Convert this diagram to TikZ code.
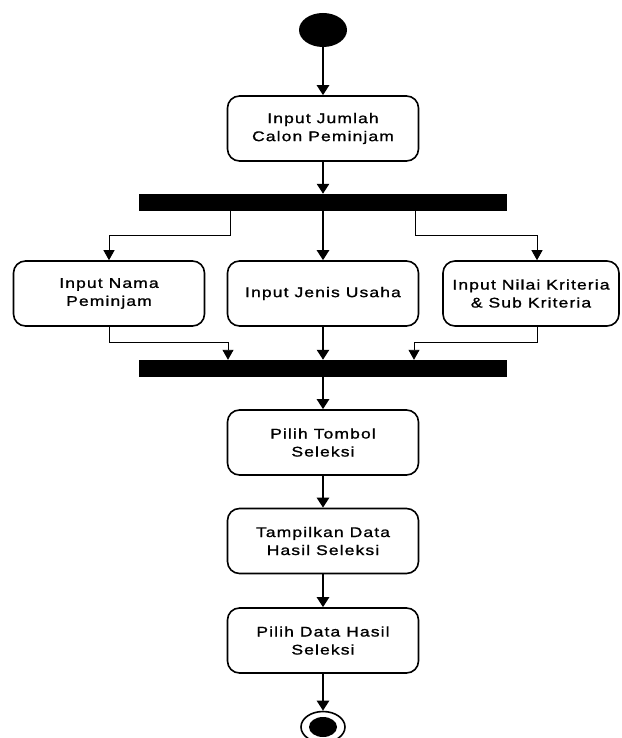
\documentclass[tikz,border=0pt]{standalone}
\usepackage{fontspec}
\setmainfont{Liberation Sans}
\newfontfamily\boxfont[FakeStretch=1.25,LetterSpace=8,FakeBold=1.2]{Liberation Sans}
\usetikzlibrary{arrows.meta,shapes.geometric}
\begin{document}
\begin{tikzpicture}[x=1pt,y=-1pt,
 act/.style={draw, line width=1.6pt, rounded corners=12pt, minimum width=191pt,
   minimum height=65pt, align=center, inner sep=2pt,
   font=\boxfont\fontsize{14}{18}\selectfont},
 bar/.style={fill=black, minimum width=368pt, minimum height=17pt, inner sep=0pt},
 flow/.style={line width=2.6pt, -{Triangle[length=10pt,width=12pt]}},
 side/.style={line width=0.9pt, -{Triangle[length=10pt,width=11pt]}},
]
\useasboundingbox (0,0) rectangle (621,738);
\node[ellipse, fill, minimum width=48pt, minimum height=34pt, inner sep=0pt] (start) at (323,30) {};
\node[act] (b1) at (323,128.5) {Input Jumlah\\Calon Peminjam};
\node[bar] (f1) at (323,202.5) {};
\node[act] (bl) at (109,293.5) {Input Nama\\Peminjam};
\node[act] (bm) at (323,293.5) {Input Jenis Usaha};
\node[act, minimum width=176pt] (br) at (531,293.5) {Input Nilai Kriteria\\\& Sub Kriteria};
\node[bar] (f2) at (323,368.5) {};
\node[act] (b3) at (323,442.5) {Pilih Tombol\\Seleksi};
\node[act] (b4) at (323,541) {Tampilkan Data\\Hasil Seleksi};
\node[act] (b5) at (323,640.5) {Pilih Data Hasil\\Seleksi};
\node[ellipse, draw, line width=1.6pt, minimum width=44pt, minimum height=31pt, inner sep=0pt] (end) at (323,727) {};
\node[ellipse, fill, minimum width=28pt, minimum height=20pt, inner sep=0pt] (endin) at (end) {};

\draw[flow] (start) -- (b1);
\draw[flow] (b1) -- (f1);
\draw[flow] (f1) -- (bm);
\draw[side] ([xshift=-93pt]f1.south) -- ++(0,24) -| ([xshift=0pt]bl.north);
\draw[side] ([xshift=92pt]f1.south) -- ++(0,24) -| ([xshift=6pt]br.north);
\draw[flow] (bm) -- (f2);
\draw[side] (bl.south) -- ++(0,16) -| ([xshift=-95pt]f2.north);
\draw[side] ([xshift=6pt]br.south) -- ++(0,16) -| ([xshift=91pt]f2.north);
\draw[flow] (f2) -- (b3);
\draw[flow] (b3) -- (b4);
\draw[flow] (b4) -- (b5);
\draw[flow] (b5) -- (end);
\end{tikzpicture}
\end{document}
